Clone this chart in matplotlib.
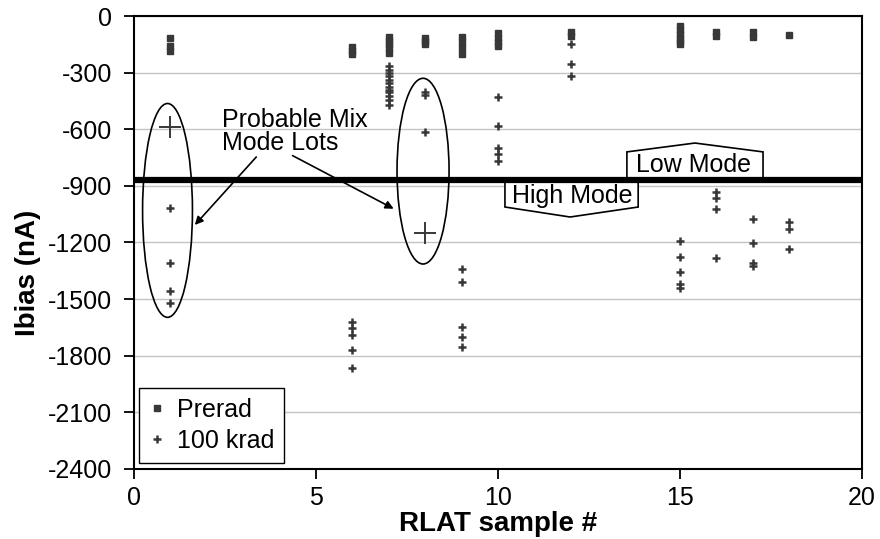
import numpy as np
import matplotlib.pyplot as plt
from matplotlib.patches import Ellipse, Polygon

plt.rcParams['font.family'] = ['Liberation Sans', 'DejaVu Sans']
plt.rcParams['axes.unicode_minus'] = False

# Preirradiation bias current per RLAT sample
prerad_x = [1, 1, 1, 6, 6, 6, 7, 7, 7, 7, 7, 8, 8, 8, 9, 9, 9, 9,
            10, 10, 10, 10, 12, 12, 15, 15, 15, 15, 15, 15, 16, 16, 17, 17, 18]
prerad_y = [-115, -160, -185, -165, -185, -200, -110, -130, -150, -170, -195,
            -115, -135, -150, -110, -140, -170, -200, -90, -115, -140, -160,
            -85, -105, -55, -75, -95, -115, -135, -150, -85, -105, -85, -110, -100]

# After 100 krad
krad_x = [1, 1, 1, 1, 6, 6, 6, 6, 6,
          7, 7, 7, 7, 7, 7, 7, 7, 7, 7, 7, 7,
          8, 8, 8, 9, 9, 9, 9, 9, 10, 10, 10, 10, 10,
          12, 12, 12, 15, 15, 15, 15, 15, 16, 16, 16, 16,
          17, 17, 17, 17, 18, 18, 18]
krad_y = [-1015, -1310, -1455, -1520, -1620, -1655, -1690, -1770, -1865,
          -265, -285, -300, -320, -340, -355, -375, -390, -405, -425, -445, -470,
          -400, -420, -612, -1340, -1408, -1648, -1700, -1754, -430, -585, -700, -730, -770,
          -150, -255, -320, -1190, -1275, -1355, -1420, -1440, -935, -965, -1020, -1280,
          -1075, -1203, -1310, -1325, -1092, -1128, -1235]

# highlighted (mixed-mode) lots
mix_x = [1, 8]
mix_y = [-587, -1148]

mode_split = -870

fig = plt.figure(figsize=(8.8, 5.39), dpi=100)
ax = fig.add_axes([0.1523, 0.1299, 0.8273, 0.8404])

ax.grid(axis='y', color='#c4c4c4', lw=1.0, zorder=0)

mc = '#383838'
ax.plot(prerad_x, prerad_y, 's', ms=4.6, color=mc, mec=mc, ls='none', label='Prerad', zorder=4)
ax.plot(krad_x, krad_y, '+', ms=6, mew=1.8, color=mc, ls='none', label='100 krad', zorder=4)
ax.plot(mix_x, mix_y, '+', ms=16, mew=1.4, color=mc, ls='none', zorder=4)

# ellipses around the probable mix-mode lots
ax.add_patch(Ellipse((0.92, -1030), 1.37, 1133, fill=False, ec='black', lw=1.2, zorder=5))
ax.add_patch(Ellipse((7.94, -822), 1.43, 984, fill=False, ec='black', lw=1.2, zorder=5))

ax.text(2.42, -612, 'Probable Mix\nMode Lots', fontsize=18, ha='left', va='center',
        linespacing=0.95, zorder=6)
ax.annotate('', xy=(1.62, -1118), xytext=(3.41, -736),
            arrowprops=dict(arrowstyle='-|>', color='black', lw=1.2, mutation_scale=12))
ax.annotate('', xy=(7.2, -1028), xytext=(4.29, -733),
            arrowprops=dict(arrowstyle='-|>', color='black', lw=1.2, mutation_scale=12))

# mode callouts
low = Polygon([(13.54, -870), (13.54, -720), (15.41, -673), (17.28, -720), (17.28, -870)],
              closed=True, fc='white', ec='black', lw=1.2, zorder=6)
high = Polygon([(10.19, -870), (10.19, -1012), (11.98, -1065), (13.85, -1012), (13.85, -870)],
               closed=True, fc='white', ec='black', lw=1.2, zorder=6)
ax.add_patch(low)
ax.add_patch(high)
ax.axhline(mode_split, color='black', lw=4.5, zorder=7)
ax.text(15.38, -792, 'Low Mode', fontsize=18, ha='center', va='center', zorder=8)
ax.text(12.03, -955, 'High Mode', fontsize=18, ha='center', va='center', zorder=8)

ax.set_xlim(0, 20)
ax.set_ylim(-2400, 0)
ax.set_xticks([0, 5, 10, 15, 20])
ax.set_yticks(np.arange(-2400, 1, 300))
ax.tick_params(labelsize=18, direction='out', length=7, width=1.3, color='black')
ax.tick_params(axis='y', pad=9)
ax.tick_params(axis='x', pad=5)
for s in ax.spines.values():
    s.set_linewidth(1.5)
    s.set_color('black')

ax.set_xlabel('RLAT sample #', fontsize=20, fontweight='bold', labelpad=1)
ax.set_ylabel('Ibias (nA)', fontsize=20, fontweight='bold')
ax.yaxis.set_label_coords(-0.128, 0.433)

leg = ax.legend(loc='lower left', bbox_to_anchor=(0.007, 0.013), fontsize=18,
                frameon=True, fancybox=False, edgecolor='black', framealpha=1,
                handlelength=0.6, handletextpad=0.5, borderpad=0.4, labelspacing=0.3,
                borderaxespad=0)
leg.get_frame().set_linewidth(1.0)

fig.savefig('out.png', dpi=100)
